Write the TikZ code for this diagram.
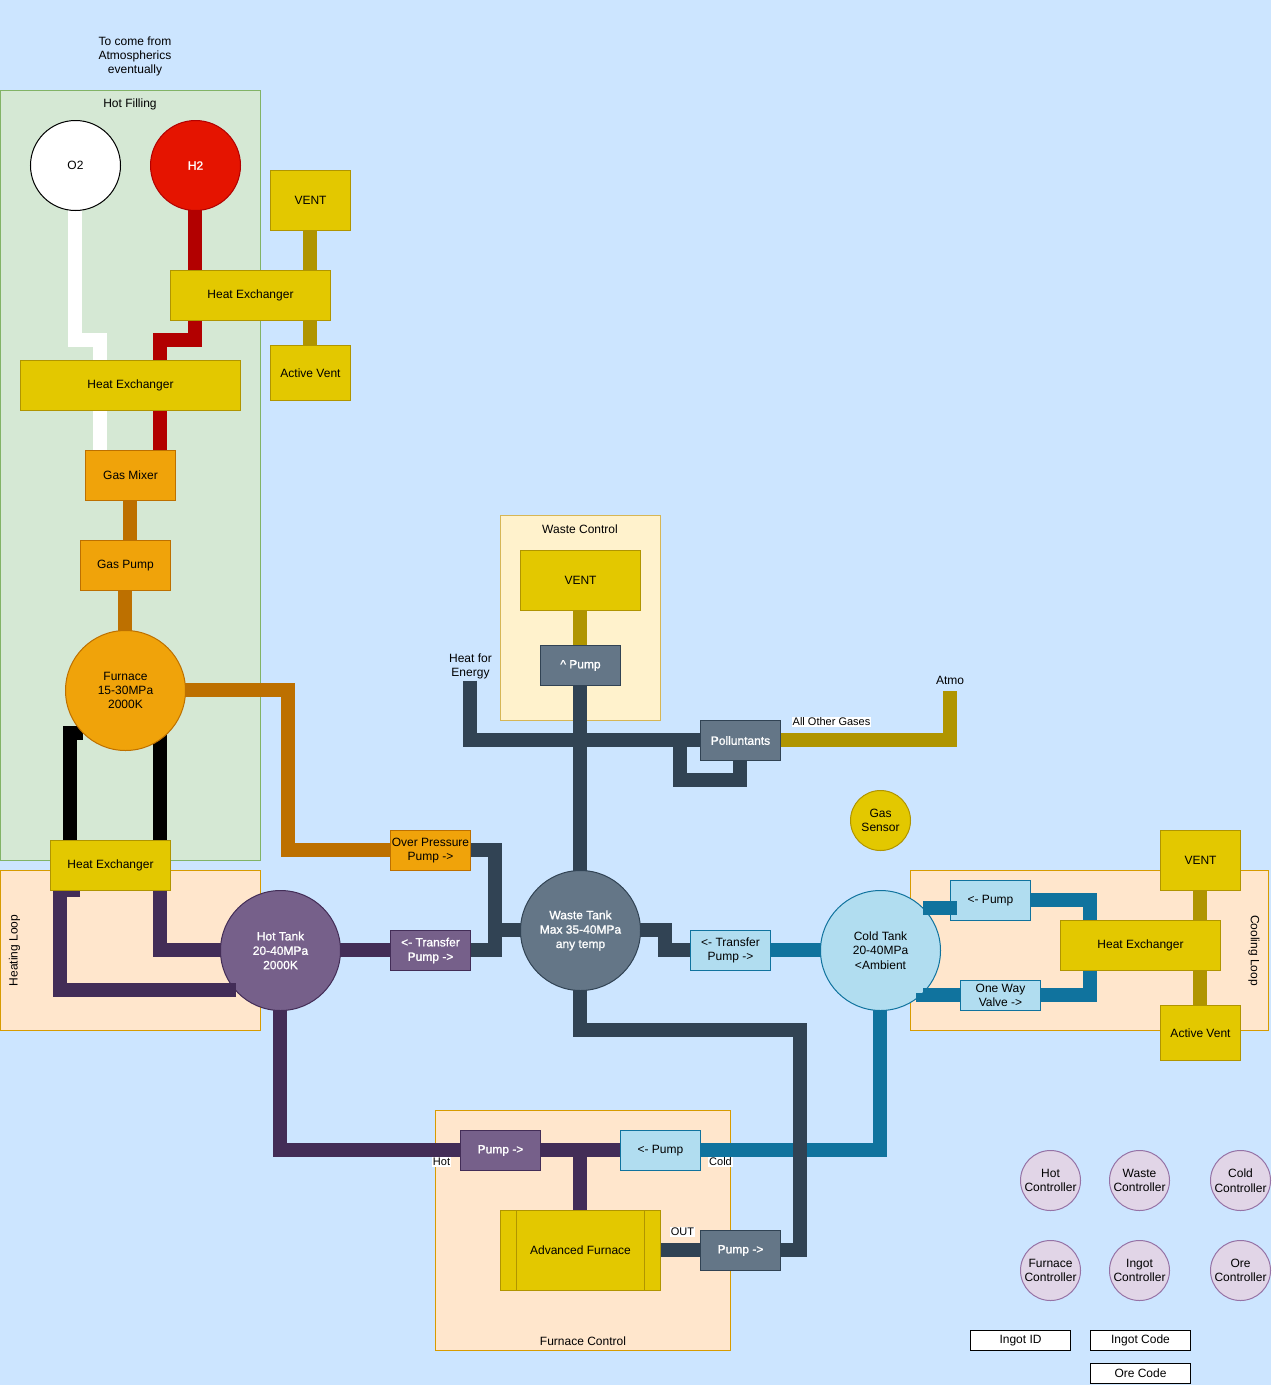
\documentclass[tikz,border=0pt]{standalone}
\usepackage{fontspec}
\setmainfont{Liberation Sans}
\newfontfamily\wfont{Liberation Sans}[RawFeature={embolden=1.2}]
\usetikzlibrary{calc}
\definecolor{bgc}{HTML}{CCE5FF}
\definecolor{grF}{HTML}{D5E8D4}\definecolor{grS}{HTML}{82B366}
\definecolor{peF}{HTML}{FFE6CC}\definecolor{peS}{HTML}{D79B00}
\definecolor{crF}{HTML}{FFF2CC}\definecolor{crS}{HTML}{D6B656}
\definecolor{yeF}{HTML}{E3C800}\definecolor{yeS}{HTML}{B09500}
\definecolor{orF}{HTML}{F0A30A}\definecolor{orS}{HTML}{BD7000}
\definecolor{blF}{HTML}{B1DDF0}\definecolor{blS}{HTML}{10739E}
\definecolor{puF}{HTML}{76608A}\definecolor{puS}{HTML}{432D57}
\definecolor{slF}{HTML}{647687}\definecolor{slS}{HTML}{314354}
\definecolor{reF}{HTML}{E51400}\definecolor{reS}{HTML}{B20000}
\definecolor{liF}{HTML}{E1D5E7}\definecolor{liS}{HTML}{9673A6}
\pgfdeclarelayer{cont}\pgfdeclarelayer{pipes}\pgfdeclarelayer{over}
\pgfsetlayers{cont,pipes,main,over}
\tikzset{
  base/.style={rectangle,draw,line width=.75pt,inner sep=0pt,outer sep=0pt,align=center,font=\fontsize{9}{10.8}\selectfont,text=black},
  yel/.style={base,fill=yeF,draw=yeS},
  ora/.style={base,fill=orF,draw=orS},
  blu/.style={base,fill=blF,draw=blS},
  pur/.style={base,fill=puF,draw=puS,text=white,font=\fontsize{9}{10.8}\wfont},
  sla/.style={base,fill=slF,draw=slS,text=white,font=\fontsize{9}{10.8}\wfont},
  gre/.style={base,fill=grF,draw=grS},
  pea/.style={base,fill=peF,draw=peS},
  cre/.style={base,fill=crF,draw=crS},
  whi/.style={base,fill=white,draw=black},
  lil/.style={base,fill=liF,draw=liS},
  red/.style={base,fill=reF,draw=reS,text=white,font=\fontsize{9}{10.8}\wfont},
  txt/.style={inner sep=0pt,outer sep=0pt,align=center,font=\fontsize{9}{10.8}\selectfont,text=black},
  tag/.style={inner sep=.6pt,outer sep=0pt,fill=white,font=\fontsize{8.25}{9.9}\selectfont,text=black},
  pipe/.style={line width=10.5pt,miter limit=10},
  pshift/.style={transform canvas={shift={(-.375pt,.375pt)}}},
}
\newcommand\bx[7]{\node[#2,minimum width={(#5-#3)*0.75pt},minimum height={(#6-#4)*0.75pt}] (#1) at ({(#3+#5)/2},{(#4+#6)/2}) {#7};}
\newcommand\rd[6]{\node[#2,circle,minimum size={2*#5*0.75pt}] (#1) at (#3,#4) {#6};}
\begin{document}
\begin{tikzpicture}[x=.75pt,y=-.75pt]
\useasboundingbox (0,0) rectangle (1271,1385);
\begin{pgfonlayer}{cont}
\fill[bgc] (0,0) rectangle (1271,1385);
\bx{hotfill}{gre}{0}{90.5}{260.5}{860.5}{}
\bx{heatloop}{pea}{.5}{870.5}{260.5}{1030.5}{}
\bx{wastectl}{cre}{500.5}{515.5}{660.5}{720.5}{}
\bx{coolloop}{pea}{910.5}{870.5}{1268}{1030.5}{}
\bx{furnctl}{pea}{435.5}{1110.5}{730.5}{1350.5}{}
\end{pgfonlayer}
% labels
\node[txt] (lcome) at (135,56.5) {To come from\\Atmospherics\\eventually};
\node[txt] (lhot) at (130,104.5) {Hot Filling};
\node[txt,rotate=90] (lheat) at (14.5,950.5) {Heating Loop};
\node[txt,rotate=-90] (lcool) at (1254,950.5) {Cooling Loop};
\node[txt] (lwaste) at (580,529.5) {Waste Control};
\node[txt] (lfurn) at (583,1341.5) {Furnace Control};
\node[txt] (lenergy) at (470.5,666.5) {Heat for\\Energy};
\node[txt] (latmo) at (950,680) {Atmo};
% nodes
\rd{otwo}{base,fill=white,draw=black}{75.5}{165.5}{45}{O2}
\rd{htwo}{red}{195.5}{165.5}{45}{H2}
\bx{ventA}{yel}{270.5}{170.5}{350.5}{230.5}{VENT}
\bx{hxA}{yel}{170.5}{270.5}{330.5}{320.5}{Heat Exchanger}
\bx{actA}{yel}{270.5}{345.5}{350.5}{400.5}{Active Vent}
\bx{hxB}{yel}{20.5}{360.5}{240.5}{410.5}{Heat Exchanger}
\bx{mixer}{ora}{85.5}{450.5}{175.5}{500.5}{Gas Mixer}
\bx{gaspump}{ora}{80.5}{540.5}{170.5}{590.5}{Gas Pump}
\rd{furnace}{ora}{125.5}{690.5}{60}{Furnace\\15-30MPa\\2000K}
\bx{hxC}{yel}{50.5}{840.5}{170.5}{890.5}{Heat Exchanger}
\rd{hottank}{pur}{280.5}{950.5}{60}{Hot Tank\\20-40MPa\\2000K}
\bx{opump}{ora}{390.5}{830.5}{470.5}{870.5}{Over Pressure\\Pump ->}
\bx{tpumpH}{pur}{390.5}{930.5}{470.5}{970.5}{<- Transfer\\Pump ->}
\bx{ventW}{yel}{520.5}{550.5}{640.5}{610.5}{VENT}
\bx{pumpW}{sla}{540.5}{645.5}{620.5}{685.5}{\textasciicircum{} Pump}
\bx{pollut}{sla}{700.5}{720.5}{780.5}{760.5}{Polluntants}
\rd{wastetank}{sla}{580.5}{930.5}{60}{Waste Tank\\Max 35-40MPa\\any temp}
\bx{tpumpC}{blu}{690.5}{930.5}{770.5}{970.5}{<- Transfer\\Pump ->}
\rd{coldtank}{blu}{880.5}{950.5}{60}{Cold Tank\\20-40MPa\\<Ambient}
\rd{gassens}{yel}{880.5}{820.5}{30}{Gas\\Sensor}
\bx{ventC}{yel}{1160.5}{830.5}{1240.5}{890.5}{VENT}
\bx{hxD}{yel}{1060.5}{920.5}{1220.5}{970.5}{Heat Exchanger}
\bx{actC}{yel}{1160.5}{1005.5}{1240.5}{1060.5}{Active Vent}
\bx{pumpC}{blu}{950.5}{880.5}{1030.5}{920.5}{<- Pump}
\bx{valve}{blu}{960.5}{980.5}{1040.5}{1010.5}{One Way\\Valve ->}
\bx{pumpH}{pur}{460.5}{1130.5}{540.5}{1170.5}{Pump ->}
\bx{pumpK}{blu}{620.5}{1130.5}{700.5}{1170.5}{<- Pump}
\bx{advf}{yel}{500.5}{1210.5}{660.5}{1290.5}{Advanced Furnace}
\draw[line width=.75pt,yeS] (516.5,0 |- advf.north) -- (516.5,0 |- advf.south);
\draw[line width=.75pt,yeS] (644.5,0 |- advf.north) -- (644.5,0 |- advf.south);
\bx{pumpO}{sla}{700.5}{1230.5}{780.5}{1270.5}{Pump ->}
\rd{chot}{lil}{1050.5}{1180.5}{30}{Hot\\Controller}
\rd{cwaste}{lil}{1139.5}{1180.5}{30}{Waste\\Controller}
\rd{ccold}{lil}{1240.5}{1180.5}{30}{Cold\\Controller}
\rd{cfurn}{lil}{1050.5}{1270.5}{30}{Furnace\\Controller}
\rd{cingot}{lil}{1139.5}{1270.5}{30}{Ingot\\Controller}
\rd{core}{lil}{1240.5}{1270.5}{30}{Ore\\Controller}
\bx{ingotid}{whi}{970.5}{1330.5}{1070.5}{1350.5}{Ingot ID}
\bx{ingotcode}{whi}{1090.5}{1330.5}{1190.5}{1350.5}{Ingot Code}
\bx{orecode}{whi}{1090.5}{1363.5}{1190.5}{1383.5}{Ore Code}
% free ends
\coordinate (energy) at (470.5,681);
\coordinate (atmo) at (950.5,691);
\coordinate (hotin) at (236,990.5);
\coordinate (coldA) at (923.5,908.5);
\coordinate (coldB) at (923.5,995.5);
\begin{pgfonlayer}{pipes}
\begin{scope}[pshift]
\draw[pipe,white] (otwo.south) -- (75.5,340.5) -- (100.5,340.5) -- (100.5,0 |- mixer.north);
\draw[pipe,reS] (195.5,0 |- htwo.south) -- (195.5,340.5) -- (160.5,340.5) -- (160.5,0 |- mixer.north);
\draw[pipe,yeS] (ventA.south) -- (actA.north);
\draw[pipe,orS] (130.5,0 |- mixer.south) -- (130.5,0 |- gaspump.north);
\draw[pipe,orS] (125.5,0 |- gaspump.south) -- (furnace.center);
\draw[pipe,orS] (furnace.center) -- (288.5,690.5) -- (288.5,850.5) -- (opump.west);
\draw[pipe,black] (70.5,0 |- hxC.north) -- (70.5,733) -- (83.5,733);
\draw[pipe,black] (160.5,0 |- hxC.north) -- (160.5,725);
\draw[pipe,puS] (80.5,890.5) -- (60.5,890.5) -- (60.5,990.5) -- (hotin);
\draw[pipe,puS] (160.5,0 |- hxC.south) -- (160.5,950.5) -- (hottank.center);
\draw[pipe,puS] (hottank.center) -- (tpumpH.west);
\draw[pipe,puS] (hottank.center) -- (280.5,1150.5) -- (pumpH.west);
\draw[pipe,puS] (pumpH.east) -- (pumpK.west);
\draw[pipe,puS] (580.5,1150.5) -- (580.5,0 |- advf.north);
\draw[pipe,blS] (pumpK.east) -- (880.5,1150.5) -- (coldtank.center);
\draw[pipe,blS] (tpumpC.east) -- (coldtank.center);
\draw[pipe,blS] (pumpC.east) -- (1090.5,900.5) -- (1090.5,0 |- hxD.north);
\draw[pipe,blS] (1090.5,0 |- hxD.south) -- (1090.5,995.5) -- (valve.east);
\draw[pipe,slS] (advf.east) -- (pumpO.west);
\draw[pipe,slS] (pumpO.east) -- (800.5,1250.5) -- (800.5,1030.5) -- (580.5,1030.5) -- (wastetank.center);
\draw[pipe,slS] (opump.east) -- (495.5,850.5) -- (495.5,950.5) -- (tpumpH.east);
\draw[pipe,slS] (495.5,930.5) -- (wastetank.center);
\draw[pipe,slS] (wastetank.center) -- (665.5,930.5) -- (665.5,950.5) -- (tpumpC.west);
\draw[pipe,slS] (wastetank.center) -- (pumpW.south);
\draw[pipe,yeS] (pumpW.north) -- (ventW.south);
\draw[pipe,slS] (energy) -- (470.5,740.5) -- (pollut.west);
\draw[pipe,slS] (740.5,0 |- pollut.south) -- (740.5,780.5) -- (680.5,780.5) -- (680.5,740.5);
\draw[pipe,yeS] (pollut.east) -- (950.5,740.5) -- (atmo);
\draw[pipe,yeS] (ventC.south) -- (actC.north);
\end{scope}
\end{pgfonlayer}
\begin{pgfonlayer}{over}
\begin{scope}[pshift]
\draw[pipe,puS] (205,990.5) -- (hotin);
\draw[pipe,blS] (coldA) -- (957.5,908.5);
\draw[pipe,blS] (coldB) -- (valve.west);
\end{scope}
\fill[blS] (916,993) rectangle (924,1002);
\end{pgfonlayer}
\node[tag] (lall) at (831.5,722) {All Other Gases};
\node[tag] (lh) at (441.5,1162) {Hot};
\node[tag] (lc) at (720.5,1162) {Cold};
\node[tag] (lo) at (682.5,1232) {OUT};
\end{tikzpicture}
\end{document}
